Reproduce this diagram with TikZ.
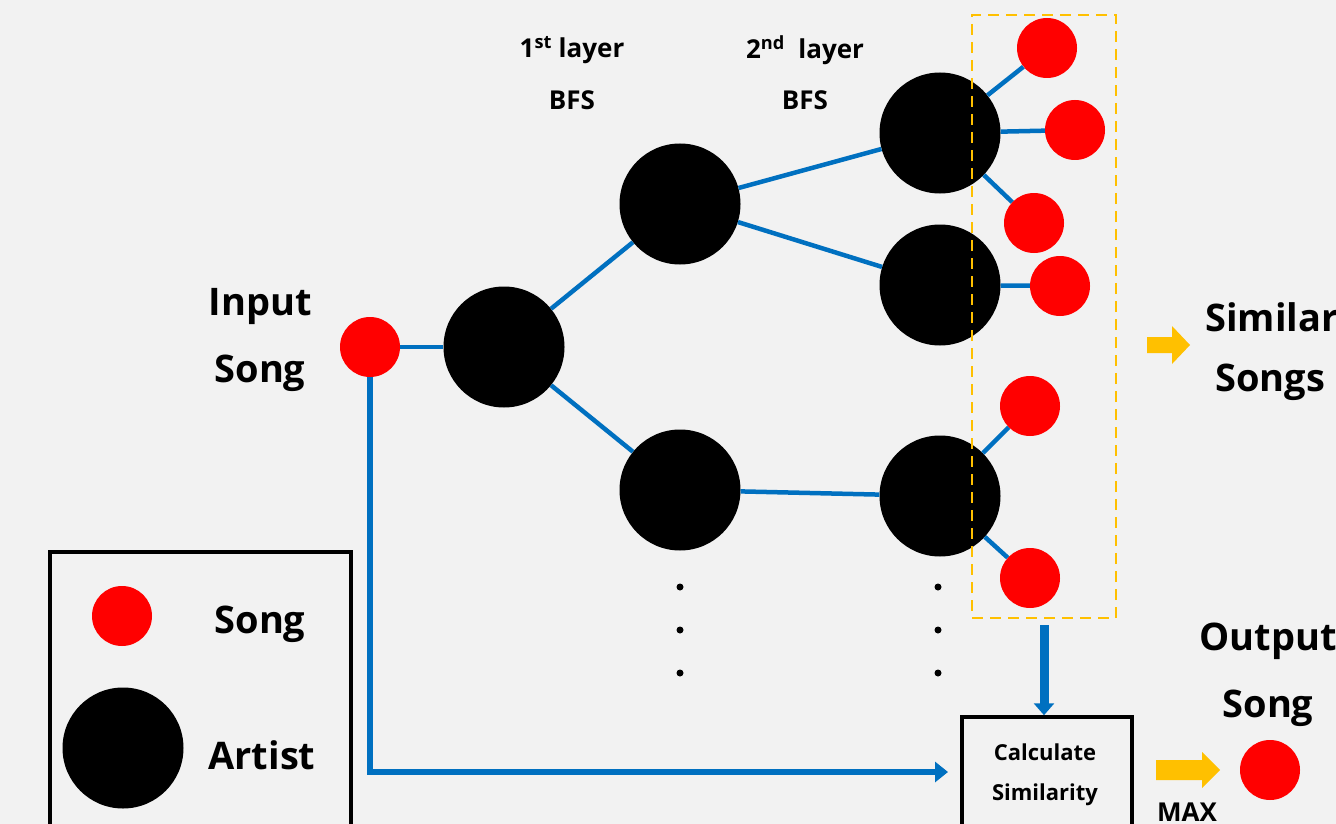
\documentclass[tikz,border=0pt]{standalone}
\usepackage{fontspec}
\setmainfont{Open Sans}
\usetikzlibrary{arrows.meta}
\definecolor{bg}{HTML}{F2F2F2}
\definecolor{eblue}{HTML}{0070C0}
\definecolor{ayellow}{HTML}{FFC000}
\definecolor{sred}{HTML}{FF0000}
\tikzset{
  song/.style={circle,fill=sred,minimum size=60pt,inner sep=0pt},
  artist/.style={circle,fill=black,minimum size=121pt,inner sep=0pt},
  edge/.style={draw=eblue,line width=4.5pt},
  flow/.style={draw=eblue,line width=6pt,-{Triangle[width=20pt,length=13pt]}},
  lbl/.style={font=\bfseries\fontsize{38}{40}\selectfont,inner sep=0pt},
  toplbl/.style={font=\bfseries\fontsize{26}{28}\selectfont,inner sep=0pt},
  smalllbl/.style={font=\bfseries\fontsize{22}{24}\selectfont,inner sep=0pt},
  dot/.style={circle,fill=black,minimum size=7pt,inner sep=0pt},
  blockarrow/.style={fill=ayellow},
}
\begin{document}
\begin{tikzpicture}[x=1pt,y=-1pt]
\useasboundingbox[fill=bg] (0,0) rectangle (1336,824);
\clip (0,0) rectangle (1336,824);
% nodes
\node[song] (in) at (370,347) {};
\node[artist] (a1) at (504,347) {};
\node[artist] (a2) at (680,204) {};
\node[artist] (a3) at (680,490) {};
\node[artist] (a4) at (940,133) {};
\node[artist] (a5) at (940,285) {};
\node[artist] (a6) at (940,496) {};
\node[song] (s1) at (1047,48) {};
\node[song] (s2) at (1075,130) {};
\node[song] (s3) at (1034,223) {};
\node[song] (s4) at (1060,286) {};
\node[song] (s5) at (1030,406) {};
\node[song] (s6) at (1030,578) {};
% edges
\draw[edge] (in) -- (a1);
\draw[edge] (a1) -- (a2);
\draw[edge] (a1) -- (a3);
\draw[edge] (a2) -- (a4);
\draw[edge] (a2) -- (a5);
\draw[edge] (a3) -- (a6);
\draw[edge] (a4) -- (s1);
\draw[edge] (a4) -- (s2);
\draw[edge] (a4) -- (s3);
\draw[edge] (a5) -- (s4);
\draw[edge] (a6) -- (s5);
\draw[edge] (a6) -- (s6);
% dots
\foreach \y [count=\i] in {587,630,673} {
  \node[dot] (d1\i) at (680,\y) {};
  \node[dot] (d2\i) at (938,\y) {};
}
% dashed box
\node[draw=ayellow,dashed,line width=2.5pt,dash pattern=on 11pt off 7pt,minimum width=144pt,minimum height=603pt,inner sep=0pt] (sel) at (1044,316.5) {};
% calc box
\node[draw=black,line width=3.5pt,minimum width=170pt,minimum height=120pt,inner sep=0pt] (calc) at (1047,777) {};
\node[smalllbl] (calct1) at (1045,752) {Calculate};
\node[smalllbl] (calct2) at (1045,795) {Similarity};
\coordinate (calcin) at (948,772);
\draw[flow] (in.south) |- (calcin);
\draw[draw=eblue,line width=9pt,-{Triangle[width=20pt,length=12pt]}] (sel.south |- 0,625) -- (sel.south |- calc.north);
% labels
\node[lbl] (inl1) at (260,306) {Input};
\node[lbl] (inl2) at (260,373) {Song};
\node[toplbl] (l1a) at (572,50) {1\textsuperscript{st} layer};
\node[toplbl] (l1b) at (572,100) {BFS};
\node[toplbl] (l2a) at (805,50) {2\textsuperscript{nd}\ \ layer};
\node[toplbl] (l2b) at (805,100) {BFS};
\node[lbl] (sim1) at (1272,317) {Similar};
\node[lbl] (sim2) at (1270,382) {Songs};
\node[lbl] (out1) at (1268,641) {Output};
\node[lbl] (out2) at (1268,708) {Song};
\node[song] (outs) at (1270,770) {};
\node[toplbl] (max) at (1187,812) {MAX};
% yellow block arrows
\fill[ayellow] (1147,337) -- (1172,337) -- (1172,326) -- (1190,345) -- (1172,364) -- (1172,353) -- (1147,353) -- cycle;
\fill[ayellow] (1156,760) -- (1202,760) -- (1202,752) -- (1220,770) -- (1202,788) -- (1202,780) -- (1156,780) -- cycle;
% legend
\node[draw=black,line width=3.5pt,minimum width=301pt,minimum height=290pt,inner sep=0pt] (leg) at (200.5,697) {};
\node[song] (lsong) at (122,616) {};
\node[artist] (lart) at (123,748) {};
\node[lbl] (lsongt) at (260,624) {Song};
\node[lbl] (lartt) at (262,755) {Artist};
\end{tikzpicture}
\end{document}
